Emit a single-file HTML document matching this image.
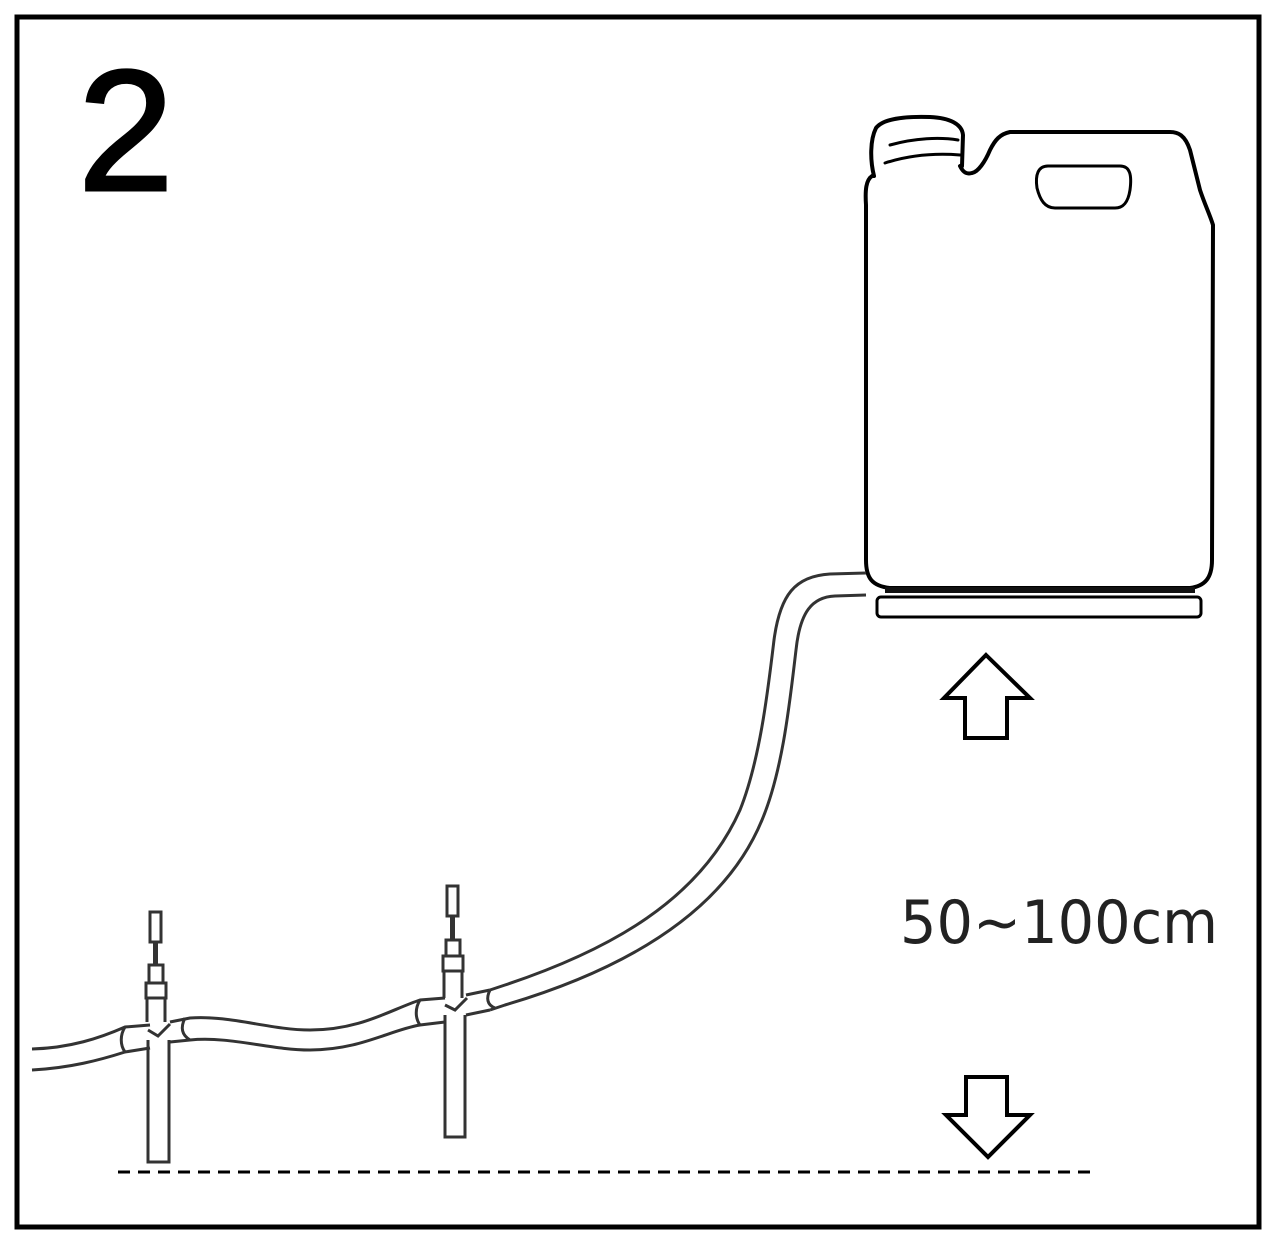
<!DOCTYPE html>
<html><head><meta charset="utf-8"><style>
html,body{margin:0;padding:0;background:#fff;}
svg{display:block;}
</style></head><body>
<svg width="1276" height="1256" viewBox="0 0 1276 1256" xmlns="http://www.w3.org/2000/svg">
<rect x="0" y="0" width="1276" height="1256" fill="#fff"/>
<rect x="17" y="17" width="1242" height="1210" fill="none" stroke="#000" stroke-width="5"/>
<text x="78" y="190" font-family="Liberation Sans, sans-serif" font-size="172" fill="#000" stroke="#000" stroke-width="3">2</text>

<g fill="none" stroke="#000" stroke-width="4" stroke-linejoin="round" stroke-linecap="round">
<path d="M872 176 C866 180 865 190 866 205 L866 560 C866 578 872 586 890 588 L1190 588 C1205 586 1212 578 1212 560 L1213 225 C1210 215 1205 205 1200 190 L1190 150 C1185 135 1178 132 1170 132 L1010 132 C1000 134 995 140 990 150 C985 162 978 172 972 173 C965 175 962 170 960 166"/>
<path d="M874 176 C870 160 870 140 876 128 C882 120 900 116 930 117 C950 118 962 124 963 135 L962 166"/>
<path d="M890 145 C915 138 940 137 958 140" stroke-width="3"/>
<path d="M885 163 C910 155 935 153 960 155" stroke-width="3"/>
<path d="M1048 166 L1120 166 C1130 166 1132 175 1130 190 C1128 203 1123 208 1115 208 L1055 208 C1045 208 1040 200 1037 188 C1035 175 1038 166 1048 166 Z" stroke-width="3"/>
<rect x="877" y="597" width="324" height="20" rx="4" stroke-width="3"/>
</g>
<rect x="885" y="587" width="310" height="6" fill="#111"/>

<g fill="none" stroke="#333" stroke-width="3">
<path d="M866 573 L830 574 C795 576 780 595 774 640 C768 690 760 760 740 810 C700 900 610 950 505 985 L490 990"/>
<path d="M866 595 L835 596 C812 597 800 612 796 650 C790 700 783 770 762 820 C725 910 630 968 505 1005 L490 1010"/>
<path d="M32 1049 C70 1048 100 1038 125 1027 L150 1025"/>
<path d="M32 1070 C70 1068 100 1060 125 1052 L150 1048"/>
<path d="M170 1022 L190 1018 C230 1015 270 1030 310 1030 C360 1030 390 1010 420 1000 L445 998"/>
<path d="M170 1042 L190 1040 C230 1036 270 1050 310 1050 C360 1050 390 1030 420 1025 L445 1022"/>
<path d="M466 995 L490 990"/>
<path d="M466 1015 L490 1010"/>
<path d="M125 1027 C120 1035 120 1045 125 1052"/>
<path d="M185 1018 C180 1028 182 1035 190 1040"/>
<path d="M420 1000 C415 1008 415 1018 420 1025"/>
<path d="M490 990 C486 998 487 1005 495 1008"/>
<rect x="150" y="912" width="11" height="30"/>
<line x1="155.5" y1="942" x2="155.5" y2="965" stroke-width="5"/>
<rect x="149" y="965" width="14" height="18"/>
<rect x="146" y="983" width="20" height="15"/>
<path d="M147 998 L147 1022 M165 998 L165 1022"/>
<path d="M148 1040 L148 1162 L169 1162 L169 1040"/>
<path d="M148 1030 L158 1036 L170 1024"/>
<rect x="447" y="886" width="11" height="30"/>
<line x1="452.5" y1="916" x2="452.5" y2="940" stroke-width="5"/>
<rect x="446" y="940" width="14" height="16"/>
<rect x="443" y="956" width="20" height="15"/>
<path d="M444 971 L444 998 M462 971 L462 998"/>
<path d="M445 1015 L445 1137 L465 1137 L465 1015"/>
<path d="M445 1005 L455 1010 L467 998"/>
</g>

<g fill="#fff" stroke="#000" stroke-width="4" stroke-linejoin="miter">
<path d="M986 655 L1030 698 L1007 698 L1007 738 L965 738 L965 698 L944 698 Z"/>
<path d="M966 1077 L1007 1077 L1007 1115 L1030 1115 L988 1157 L946 1115 L966 1115 Z"/>
</g>
<text x="900" y="943" font-family="DejaVu Sans, Liberation Sans, sans-serif" font-size="60" fill="#222" textLength="318" lengthAdjust="spacingAndGlyphs">50~100cm</text>
<line x1="118" y1="1172" x2="1090" y2="1172" stroke="#000" stroke-width="3" stroke-dasharray="12 8"/>
</svg>
</body></html>
